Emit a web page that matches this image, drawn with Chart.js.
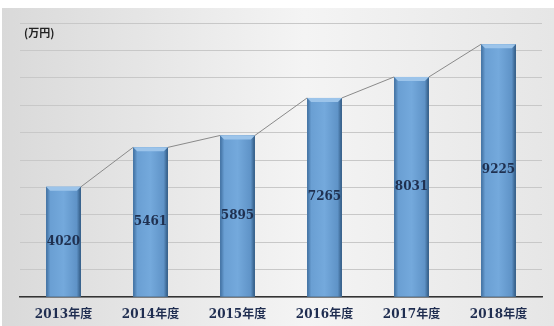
<!DOCTYPE html>
<html>
<head>
<meta charset="utf-8">
<script src="https://cdn.jsdelivr.net/npm/chart.js@4"></script>
<style>
  html, body { margin: 0; padding: 0; background: #fff; }
  #wrap { position: absolute; left: 0; top: 8px; width: 554px; height: 318px; }
</style>
</head>
<body>
<div id="wrap"><canvas id="chart"></canvas></div>
<script>
// categories and values (万円)
const years = ["2013年度", "2014年度", "2015年度", "2016年度", "2017年度", "2018年度"];
const sales = [4020, 5461, 5895, 7265, 8031, 9225];
const unitLabel = "(万円)";

// gray panel behind everything
const panelBg = {
  id: "panelBg",
  beforeDraw(chart) {
    const { ctx, width, height } = chart;
    const g = ctx.createLinearGradient(0, 0, width, 0);
    g.addColorStop(0, "#d9d9d9");
    g.addColorStop(0.55, "#f4f4f4");
    g.addColorStop(1, "#e6e6e6");
    ctx.save();
    ctx.fillStyle = g;
    ctx.fillRect(2, 0, width - 2, height);
    ctx.restore();
  },
};

// shading on each bar + series lines + value labels
const barExtras = {
  id: "barExtras",
  afterDatasetsDraw(chart) {
    const { ctx } = chart;
    const bars = chart.getDatasetMeta(0).data;
    ctx.save();
    bars.forEach((bar) => {
      const left = bar.x - bar.width / 2, right = bar.x + bar.width / 2;
      const g = ctx.createLinearGradient(left, 0, right, 0);
      g.addColorStop(0, "#3f6e9e");
      g.addColorStop(0.12, "#6a9fd3");
      g.addColorStop(0.5, "#74a9dc");
      g.addColorStop(0.88, "#5f93c7");
      g.addColorStop(1, "#2f577f");
      ctx.fillStyle = g;
      ctx.fillRect(left, bar.y, bar.width, bar.base - bar.y);
      // bevel at top
      ctx.beginPath();
      ctx.moveTo(left, bar.y);
      ctx.lineTo(right, bar.y);
      ctx.lineTo(right - 4, bar.y + 4);
      ctx.lineTo(left + 4, bar.y + 4);
      ctx.closePath();
      ctx.fillStyle = "#9cc4ea";
      ctx.fill();
    });
    // lines joining bar tops
    ctx.strokeStyle = "#8a8a8a";
    ctx.lineWidth = 1;
    for (let i = 0; i < bars.length - 1; i++) {
      const a = bars[i], b = bars[i + 1];
      ctx.beginPath();
      ctx.moveTo(a.x + a.width / 2, a.y);
      ctx.lineTo(b.x - b.width / 2, b.y);
      ctx.stroke();
    }
    // value labels
    ctx.fillStyle = "#1f3050";
    ctx.font = "bold 12px 'DejaVu Serif', serif";
    ctx.textAlign = "center";
    ctx.textBaseline = "middle";
    bars.forEach((bar, i) => {
      ctx.fillText(String(sales[i]), bar.x, (bar.y + bar.base) / 2);
    });
    // unit text
    ctx.fillStyle = "#222";
    ctx.font = "bold 11px 'Noto Sans CJK JP', sans-serif";
    ctx.textAlign = "left";
    ctx.fillText(unitLabel, chart.chartArea.left + 4, 25);
    ctx.restore();
  },
};

new Chart(document.getElementById("chart"), {
  type: "bar",
  plugins: [panelBg, barExtras],
  data: {
    labels: years,
    datasets: [{
      data: sales,
      backgroundColor: "#6a9fd3",
      barPercentage: 0.4,
      categoryPercentage: 1.0,
    }],
  },
  options: {
    responsive: true,
    maintainAspectRatio: false,
    animation: false,
    layout: { padding: { left: 20, right: 12, top: 15, bottom: 0 } },
    plugins: { legend: { display: false }, tooltip: { enabled: false } },
    scales: {
      x: {
        grid: { display: false },
        border: { color: "#333", width: 1.5 },
        ticks: {
          color: "#1f2d50",
          padding: 3,
          font: { family: "'DejaVu Serif', 'Noto Sans CJK JP', serif", size: 12, weight: "bold" },
        },
        afterFit(scale) { scale.height = 29; },
      },
      y: {
        min: 0,
        max: 10000,
        ticks: { display: false, stepSize: 1000 },
        grid: { color: "#c8c8c8", drawTicks: false },
        border: { display: false },
        afterFit(scale) { scale.width = 0; },
      },
    },
  },
});
</script>
</body>
</html>
